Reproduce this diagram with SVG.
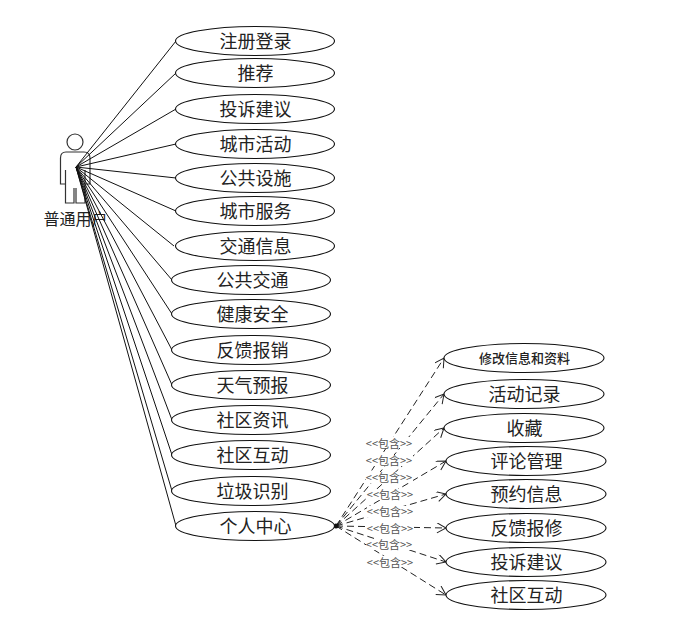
<svg xmlns="http://www.w3.org/2000/svg" width="674" height="642" viewBox="0 0 674 642">
<style>
.n{fill:#fff;stroke:#111;stroke-width:1.1}
.t{font-family:"Noto Sans CJK SC","Liberation Serif",serif;font-size:18px;fill:#222;text-anchor:middle;dominant-baseline:central;transform:translate(.5px,-1px)}
.s{font-size:13px;font-weight:500}
.c line{stroke:#111;stroke-width:1}
.d line{stroke:#222;stroke-width:1;stroke-dasharray:7 4;marker-end:url(#a)}
.l{font-family:"Noto Sans CJK SC","Liberation Sans",sans-serif;font-size:11px;fill:#555;text-anchor:middle;dominant-baseline:central;transform:translateY(-.5px)}
.lb{fill:#fff;stroke:none}
</style>
<defs>
<marker id="a" markerUnits="userSpaceOnUse" markerWidth="12" markerHeight="12" refX="10" refY="5" orient="auto"><path d="M1 0L10 5L1 10" fill="none" stroke="#222" stroke-width="1"/></marker>
</defs>
<rect width="674" height="642" fill="#fff"/>
<g id="actor">
<circle cx="75" cy="142" r="8" fill="#fff" stroke="#333" stroke-width="1.2"/>
<path d="M66 152H84Q90 152 90 158V184H85V170 M85 184V203H76V188 M74 188V203H65.500V184H60.500V158Q60.500 152 66 152 M65.500 170V184" fill="#fff" stroke="#333" stroke-width="1.2"/>
<text class="t" x="75" y="219" style="font-size:16px">普通用户</text>
</g>
<g id="connectors" class="c">
<line x1="76" y1="167" x2="176" y2="41"/><line x1="76" y1="167" x2="176" y2="73"/><line x1="76" y1="167" x2="176" y2="109"/><line x1="76" y1="167" x2="176" y2="144"/><line x1="76" y1="167" x2="176" y2="178"/><line x1="76" y1="167" x2="176" y2="211"/><line x1="76" y1="167" x2="174" y2="246"/><line x1="76" y1="167" x2="172" y2="280"/><line x1="76" y1="167" x2="172" y2="314"/><line x1="76" y1="167" x2="172" y2="350"/><line x1="76" y1="167" x2="172" y2="385"/><line x1="76" y1="167" x2="172" y2="420"/><line x1="76" y1="167" x2="172" y2="455"/><line x1="76" y1="167" x2="172" y2="491"/><line x1="76" y1="167" x2="176" y2="526"/>
</g>
<g id="include-connectors" class="d">
<line x1="336" y1="526" x2="444" y2="358"/><line x1="336" y1="526" x2="444" y2="394"/><line x1="336" y1="526" x2="444" y2="428"/><line x1="336" y1="526" x2="446" y2="461"/><line x1="336" y1="526" x2="446" y2="494"/><line x1="336" y1="526" x2="446" y2="528"/><line x1="336" y1="526" x2="446" y2="562"/><line x1="336" y1="526" x2="446" y2="595"/>
<circle cx="336" cy="526" r="2.500" fill="#111"/>
</g>
<g id="include-labels">
<rect class="lb" x="366" y="437" width="47" height="11"/><text class="l" x="389" y="443">&lt;&lt;包含&gt;&gt;</text>
<rect class="lb" x="366" y="455" width="47" height="11"/><text class="l" x="389" y="460">&lt;&lt;包含&gt;&gt;</text>
<rect class="lb" x="366" y="472" width="47" height="11"/><text class="l" x="389" y="477">&lt;&lt;包含&gt;&gt;</text>
<rect class="lb" x="367" y="489" width="47" height="11"/><text class="l" x="390" y="494">&lt;&lt;包含&gt;&gt;</text>
<rect class="lb" x="367" y="506" width="47" height="11"/><text class="l" x="390" y="511">&lt;&lt;包含&gt;&gt;</text>
<rect class="lb" x="367" y="523" width="47" height="11"/><text class="l" x="390" y="528">&lt;&lt;包含&gt;&gt;</text>
<rect class="lb" x="366" y="539" width="47" height="11"/><text class="l" x="389" y="544">&lt;&lt;包含&gt;&gt;</text>
<rect class="lb" x="367" y="556" width="47" height="11"/><text class="l" x="390" y="562">&lt;&lt;包含&gt;&gt;</text>
</g>
<g id="u1"><ellipse class="n" cx="255" cy="41" rx="79.500" ry="14.500"/><text class="t" x="255" y="41">注册登录</text></g>
<g id="u2"><ellipse class="n" cx="255" cy="73" rx="79.500" ry="14.500"/><text class="t" x="255" y="73">推荐</text></g>
<g id="u3"><ellipse class="n" cx="255" cy="109" rx="79.500" ry="14.500"/><text class="t" x="255" y="109">投诉建议</text></g>
<g id="u4"><ellipse class="n" cx="255" cy="144" rx="79.500" ry="14.500"/><text class="t" x="255" y="144">城市活动</text></g>
<g id="u5"><ellipse class="n" cx="255" cy="178" rx="79.500" ry="14.500"/><text class="t" x="255" y="178">公共设施</text></g>
<g id="u6"><ellipse class="n" cx="255" cy="211" rx="79.500" ry="14.500"/><text class="t" x="255" y="211">城市服务</text></g>
<g id="u7"><ellipse class="n" cx="255" cy="246" rx="79.500" ry="14.500"/><text class="t" x="255" y="246">交通信息</text></g>
<g id="u8"><ellipse class="n" cx="251" cy="280" rx="79.500" ry="14.500"/><text class="t" x="252" y="280">公共交通</text></g>
<g id="u9"><ellipse class="n" cx="251" cy="314" rx="79.500" ry="14.500"/><text class="t" x="252" y="314">健康安全</text></g>
<g id="u10"><ellipse class="n" cx="251" cy="350" rx="79.500" ry="14.500"/><text class="t" x="252" y="350">反馈报销</text></g>
<g id="u11"><ellipse class="n" cx="251" cy="385" rx="79.500" ry="14.500"/><text class="t" x="252" y="385">天气预报</text></g>
<g id="u12"><ellipse class="n" cx="251" cy="420" rx="79.500" ry="14.500"/><text class="t" x="252" y="420">社区资讯</text></g>
<g id="u13"><ellipse class="n" cx="251" cy="455" rx="79.500" ry="14.500"/><text class="t" x="252" y="455">社区互动</text></g>
<g id="u14"><ellipse class="n" cx="251" cy="491" rx="79.500" ry="14.500"/><text class="t" x="252" y="491">垃圾识别</text></g>
<g id="u15"><ellipse class="n" cx="255" cy="526" rx="79.500" ry="14.500"/><text class="t" x="255" y="526">个人中心</text></g>
<g id="r1"><ellipse class="n" cx="524" cy="358" rx="80" ry="14.500"/><text class="t s" x="524" y="358">修改信息和资料</text></g>
<g id="r2"><ellipse class="n" cx="524" cy="394" rx="80" ry="14.500"/><text class="t" x="524" y="394">活动记录</text></g>
<g id="r3"><ellipse class="n" cx="524" cy="428" rx="80" ry="14.500"/><text class="t" x="524" y="428">收藏</text></g>
<g id="r4"><ellipse class="n" cx="526" cy="461" rx="80" ry="14.500"/><text class="t" x="526" y="461">评论管理</text></g>
<g id="r5"><ellipse class="n" cx="526" cy="494" rx="80" ry="14.500"/><text class="t" x="526" y="494">预约信息</text></g>
<g id="r6"><ellipse class="n" cx="526" cy="528" rx="80" ry="14.500"/><text class="t" x="526" y="528">反馈报修</text></g>
<g id="r7"><ellipse class="n" cx="526" cy="562" rx="80" ry="14.500"/><text class="t" x="526" y="562">投诉建议</text></g>
<g id="r8"><ellipse class="n" cx="526" cy="595" rx="80" ry="14.500"/><text class="t" x="526" y="595">社区互动</text></g>
</svg>
